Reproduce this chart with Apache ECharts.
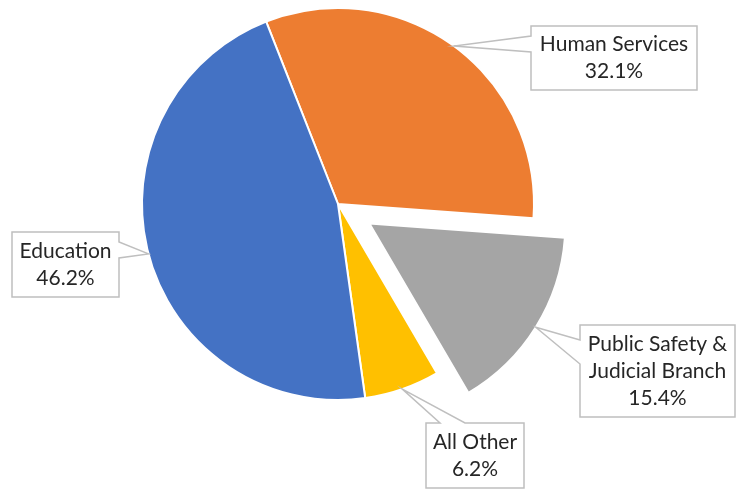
<!DOCTYPE html>
<html>
<head>
<meta charset="utf-8">
<script src="https://cdn.jsdelivr.net/npm/echarts@6/dist/echarts.min.js"></script>
<style>
  html, body { margin: 0; padding: 0; background: #ffffff; }
  #chart { width: 736px; height: 489px; }
</style>
</head>
<body>
<div id="chart"></div>
<script>
// Budget share by area (percent of total)
const categories = ['Human Services', 'Public Safety & Judicial Branch', 'All Other', 'Education'];
const shares = [32.1, 15.4, 6.2, 46.2];
// How each category name wraps inside its callout
const nameLines = [['Human Services'], ['Public Safety &', 'Judicial Branch'], ['All Other'], ['Education']];
const colors = ['#ED7D31', '#A5A5A5', '#FFC000', '#4472C4'];
const exploded = [false, true, false, false];

// Callout boxes: rectangle, the side the pointer leaves from, and the span of its base on that side
const callouts = [
  { x: 531, y: 26, w: 166, h: 64, side: 'left', a: 36, b: 52 },
  { x: 580, y: 325, w: 155, h: 92, side: 'left', a: 340, b: 364 },
  { x: 426, y: 423, w: 98, h: 65, side: 'top', a: 440, b: 465 },
  { x: 12, y: 232, w: 107, h: 65, side: 'right', a: 242, b: 258 }
];

const OFFSET = 37;
const FONT = '21px Lato, "Open Sans", sans-serif';
const LINE_H = 27;

const chart = echarts.init(document.getElementById('chart'), null, { renderer: 'canvas' });

chart.setOption({
  animation: false,
  backgroundColor: '#ffffff',
  series: [{
    type: 'pie',
    center: [338, 204],
    radius: 196,
    startAngle: 111.5,
    clockwise: true,
    selectedMode: 'multiple',
    selectedOffset: OFFSET,
    label: { show: false },
    labelLine: { show: false },
    emphasis: { disabled: true },
    itemStyle: { borderColor: '#ffffff', borderWidth: 2 },
    data: categories.map((name, i) => ({
      name: name,
      value: shares[i],
      selected: exploded[i],
      itemStyle: { color: colors[i] }
    }))
  }]
});

// Build the callout outlines and texts from the pie's own sector layout
function calloutPolygon(box, tip) {
  const x0 = box.x, y0 = box.y, x1 = box.x + box.w, y1 = box.y + box.h;
  const pts = [[x0, y0]];
  if (box.side === 'top') pts.push([box.a, y0], tip, [box.b, y0]);
  pts.push([x1, y0]);
  if (box.side === 'right') pts.push([x1, box.a], tip, [x1, box.b]);
  pts.push([x1, y1], [x0, y1]);
  if (box.side === 'left') pts.push([x0, box.b], tip, [x0, box.a]);
  return pts;
}

const pieData = chart.getModel().getSeriesByIndex(0).getData();
const elements = [];
categories.forEach((name, i) => {
  const lay = pieData.getItemLayout(i);
  const mid = (lay.startAngle + lay.endAngle) / 2;
  const shift = exploded[i] ? OFFSET : 0;
  const tip = [
    lay.cx + Math.cos(mid) * (lay.r + shift),
    lay.cy + Math.sin(mid) * (lay.r + shift)
  ];
  const box = callouts[i];
  elements.push({
    type: 'polygon',
    z: 10,
    shape: { points: calloutPolygon(box, tip) },
    style: { fill: '#ffffff', stroke: '#BFBFBF', lineWidth: 1.5 }
  });
  elements.push({
    type: 'text',
    z: 11,
    x: box.x + box.w / 2,
    y: box.y + box.h / 2,
    style: {
      text: nameLines[i].concat([shares[i].toFixed(1) + '%']).join('\n'),
      font: FONT,
      lineHeight: LINE_H,
      fill: '#262626',
      align: 'center',
      verticalAlign: 'middle'
    }
  });
});

chart.setOption({ graphic: { elements: elements } });
</script>
</body>
</html>
